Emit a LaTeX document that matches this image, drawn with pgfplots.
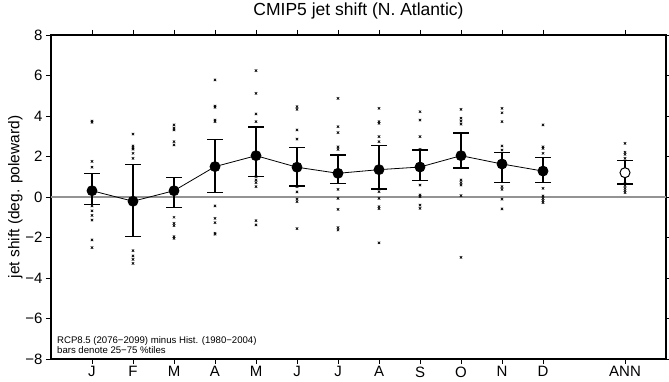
\documentclass[border=0pt]{standalone}
\usepackage{fontspec}
\setmainfont{Liberation Sans}
\usepackage{pgfplots}
\pgfplotsset{compat=1.18}

\pgfplotstableread{
x y
1 3.75
1 3.69
1 1.76
1 1.47
1 -0.44
1 -0.68
1 -0.91
1 -1.14
1 -2.12
1 -2.50
2 3.11
2 2.52
2 2.42
2 2.36
2 2.16
2 1.91
2 -2.65
2 -2.91
2 -3.08
2 -3.28
3 3.56
3 3.40
3 3.31
3 2.73
3 2.57
3 -1.00
3 -1.30
3 -1.41
3 -1.96
3 -2.04
4 5.78
4 4.49
4 4.43
4 3.80
4 3.72
4 -0.44
4 -1.05
4 -1.27
4 -1.79
4 -1.84
5 6.24
5 5.12
5 4.10
5 3.72
5 1.00
5 0.84
5 0.71
5 0.51
5 -1.17
5 -1.38
6 4.46
6 4.33
6 3.31
6 2.86
6 0.51
6 0.25
6 -0.10
6 -0.23
6 -1.56
7 4.87
7 3.47
7 3.18
7 2.48
7 2.35
7 0.38
7 -0.07
7 -0.61
7 -1.51
7 -1.63
8 4.38
8 3.72
8 3.64
8 2.98
8 2.73
8 0.26
8 -0.07
8 -0.48
8 -0.58
8 -2.26
9 4.21
9 3.80
9 2.98
9 2.35
9 0.59
9 0.10
9 0.02
9 -0.40
9 -0.56
10 4.33
10 3.89
10 3.75
10 3.60
10 0.84
10 0.71
10 0.59
10 0.07
10 -2.98
11 4.38
11 4.16
11 3.72
11 2.52
11 2.32
11 0.51
11 0.38
11 -0.11
11 -0.59
12 3.56
12 2.48
12 2.40
12 2.16
12 0.43
12 0.05
12 -0.07
12 -0.18
12 -0.28
14 2.65
14 2.21
14 2.11
14 1.91
14 0.68
14 0.56
14 0.43
14 0.31
14 0.21
}\models

\pgfplotstableread{
x y ep em
1 0.31 0.86 0.67
2 -0.21 1.81 1.75
3 0.31 0.66 0.84
4 1.50 1.35 1.29
5 2.04 1.42 1.04
6 1.47 0.98 0.93
7 1.17 0.90 0.50
8 1.35 1.20 0.95
9 1.48 0.84 0.68
10 2.04 1.12 0.61
11 1.63 0.56 0.91
12 1.28 0.68 0.57
}\means

\pgfplotstableread{
x y ep em
14 1.20 0.59 0.56
}\annual

\begin{document}
\begin{tikzpicture}[x=1pt,y=1pt]
\path[use as bounding box] (-51,-23) rectangle (618,359);
\begin{axis}[
  at={(0,0)}, anchor=south west,
  scale only axis, width=615pt, height=324pt,
  xmin=0, xmax=15, ymin=-8, ymax=8,
  xtick={1,2,3,4,5,6,7,8,9,10,11,12,14},
  xticklabels={J,F,M,A,M,J,J,A,S,O,N,D,ANN},
  ytick={-8,-6,-4,-2,0,2,4,6,8},
  yticklabels={−8,−6,−4,−2,0,2,4,6,8},
  tick align=outside,
  major tick length=5pt,
  tick style={line width=0.9pt, black},
  axis line style={line width=1.4pt},
  ticklabel style={font=\fontsize{15}{17}\selectfont},
  xticklabel style={yshift=1pt},
  title={CMIP5 jet shift (N. Atlantic)},
  title style={font=\fontsize{17.5}{20}\selectfont, at={(axis description cs:0.5,1)}, anchor=base, yshift=13pt, inner sep=0pt},
  ylabel={jet shift (deg. poleward)},
  ylabel style={font=\fontsize{15.5}{18}\selectfont, at={(axis description cs:-0.058,0.5)}, anchor=center, inner sep=0pt},
  clip=false,
]
\addplot[gray!85, line width=1.2pt] coordinates {(0,0) (15,0)};
\addplot[only marks, mark=x, mark size=1.7pt, black, mark options={line width=0.7pt}] table[x=x,y=y] {\models};
\addplot[black, line width=0.8pt, mark=*, mark size=5pt,
  error bars/.cd, y dir=both, y explicit,
  error bar style={line width=1.4pt, black},
  error mark options={rotate=90, mark size=8pt, line width=1.4pt, black}]
  table[x=x, y=y, y error plus=ep, y error minus=em] {\means};
\addplot[black, only marks, mark=*, mark size=5pt, mark options={fill=white, line width=1pt},
  error bars/.cd, y dir=both, y explicit,
  error bar style={line width=1.4pt, black},
  error mark options={rotate=90, mark size=8pt, line width=1.4pt, black}]
  table[x=x, y=y, y error plus=ep, y error minus=em] {\annual};
\node[anchor=base west, inner sep=0pt, font=\fontsize{9.6}{11}\selectfont] at (axis description cs:0.0097,0.049) {RCP8.5 (2076−2099) minus Hist. (1980−2004)};
\node[anchor=base west, inner sep=0pt, font=\fontsize{9.6}{11}\selectfont] at (axis description cs:0.0097,0.018) {bars denote 25−75 \%tiles};
\end{axis}
\end{tikzpicture}
\end{document}
